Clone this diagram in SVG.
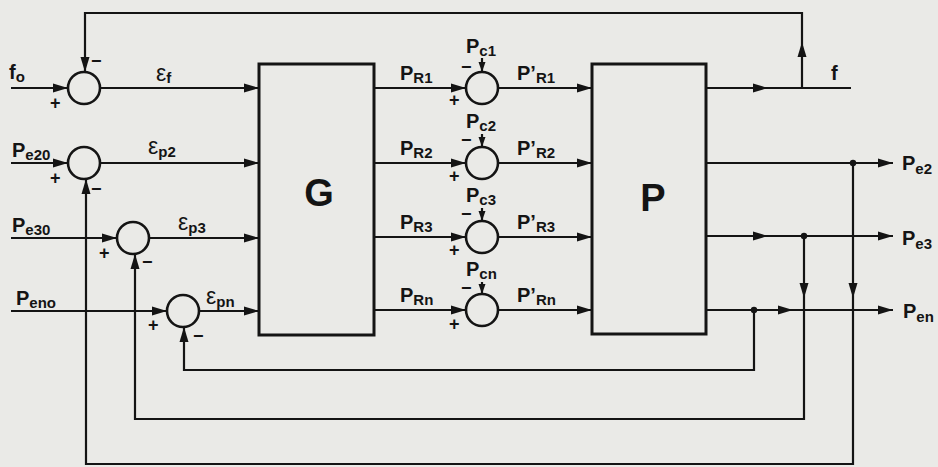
<svg xmlns="http://www.w3.org/2000/svg" width="938" height="467" viewBox="0 0 938 467">
<style>
.ln{stroke:#141414;stroke-width:2.2;fill:none}
.bx{stroke:#141414;stroke-width:3;fill:none}
.sj{stroke:#141414;stroke-width:2.6;fill:none}
.t{font-family:"Liberation Sans",Arial,sans-serif;font-weight:bold;font-size:20px;fill:#141414}
.s{font-size:15px}
.e{font-size:23px;font-weight:normal}
.big{font-family:"Liberation Sans",Arial,sans-serif;font-weight:bold;font-size:38px;fill:#141414}
.sg{font-family:"Liberation Sans",Arial,sans-serif;font-weight:bold;font-size:18px;fill:#141414}
</style>
<defs>
<path id="ah" d="M0,0 L-15,-4.5 L-15,4.5 Z" fill="#141414"/>
<path id="ahs" d="M0,0 L-10,-3.5 L-10,3.5 Z" fill="#141414"/>
</defs>
<rect width="938" height="467" fill="#eaeae7"/>

<g id="connectors">
<line class="ln" x1="11" y1="88" x2="68" y2="88"/>
<line class="ln" x1="11" y1="163" x2="68" y2="163"/>
<line class="ln" x1="11" y1="238" x2="117" y2="238"/>
<line class="ln" x1="11" y1="311" x2="167" y2="311"/>
<use href="#ah" transform="translate(68,88)"/>
<use href="#ah" transform="translate(68,163)"/>
<use href="#ah" transform="translate(117,238)"/>
<use href="#ah" transform="translate(167,311)"/>
<line class="ln" x1="100" y1="88" x2="259" y2="88"/>
<line class="ln" x1="100" y1="163" x2="259" y2="163"/>
<line class="ln" x1="149" y1="238" x2="259" y2="238"/>
<line class="ln" x1="199" y1="311" x2="259" y2="311"/>
<use href="#ah" transform="translate(259,88)"/>
<use href="#ah" transform="translate(259,163)"/>
<use href="#ah" transform="translate(259,238)"/>
<use href="#ah" transform="translate(259,311)"/>
<line class="ln" x1="374" y1="88" x2="466" y2="88"/>
<line class="ln" x1="374" y1="163" x2="466" y2="163"/>
<line class="ln" x1="374" y1="237" x2="466" y2="237"/>
<line class="ln" x1="374" y1="310" x2="466" y2="310"/>
<use href="#ah" transform="translate(466,88)"/>
<use href="#ah" transform="translate(466,163)"/>
<use href="#ah" transform="translate(466,237)"/>
<use href="#ah" transform="translate(466,310)"/>
<line class="ln" x1="482" y1="58" x2="482" y2="72"/>
<line class="ln" x1="482" y1="134" x2="482" y2="147"/>
<line class="ln" x1="482" y1="208" x2="482" y2="221"/>
<line class="ln" x1="482" y1="282" x2="482" y2="294"/>
<use href="#ahs" transform="translate(482,72) rotate(90)"/>
<use href="#ahs" transform="translate(482,147) rotate(90)"/>
<use href="#ahs" transform="translate(482,221) rotate(90)"/>
<use href="#ahs" transform="translate(482,294) rotate(90)"/>
<line class="ln" x1="498" y1="88" x2="592" y2="88"/>
<line class="ln" x1="498" y1="163" x2="592" y2="163"/>
<line class="ln" x1="498" y1="237" x2="592" y2="237"/>
<line class="ln" x1="498" y1="310" x2="592" y2="310"/>
<use href="#ah" transform="translate(592,88)"/>
<use href="#ah" transform="translate(592,163)"/>
<use href="#ah" transform="translate(592,237)"/>
<use href="#ah" transform="translate(592,310)"/>
<line class="ln" x1="706" y1="88" x2="851" y2="88"/>
<use href="#ah" transform="translate(768,88)"/>
<line class="ln" x1="706" y1="163" x2="893" y2="163"/>
<use href="#ah" transform="translate(893,163)"/>
<line class="ln" x1="706" y1="236" x2="893" y2="236"/>
<use href="#ah" transform="translate(768,236)"/>
<use href="#ah" transform="translate(893,236)"/>
<line class="ln" x1="706" y1="310" x2="893" y2="310"/>
<use href="#ah" transform="translate(793,310)"/>
<use href="#ah" transform="translate(893,310)"/>
<polyline class="ln" points="802,88 802,13 85,13 85,72"/>
<use href="#ah" transform="translate(802,42) rotate(-90)"/>
<use href="#ah" transform="translate(85,72) rotate(90)"/>
<polyline class="ln" points="853,163 853,464 86,464 86,179"/>
<use href="#ah" transform="translate(853,298) rotate(90)"/>
<use href="#ah" transform="translate(86,179) rotate(-90)"/>
<polyline class="ln" points="804,236 804,419 135,419 135,254"/>
<use href="#ah" transform="translate(804,298) rotate(90)"/>
<use href="#ah" transform="translate(135,254) rotate(-90)"/>
<polyline class="ln" points="754,310 754,370 184,370 184,327"/>
<use href="#ah" transform="translate(184,327) rotate(-90)"/>
<circle cx="853" cy="163" r="3.2" fill="#141414"/>
<circle cx="804" cy="236" r="3.2" fill="#141414"/>
<circle cx="754" cy="310" r="3.2" fill="#141414"/>
</g>

<g id="sum1"><circle class="sj" cx="84" cy="88" r="16"/><text class="sg" x="91" y="67">−</text><text class="sg" x="50" y="109">+</text></g>
<g id="sum2"><circle class="sj" cx="84" cy="163" r="16"/><text class="sg" x="91" y="195">−</text><text class="sg" x="50" y="184">+</text></g>
<g id="sum3"><circle class="sj" cx="133" cy="238" r="16"/><text class="sg" x="142" y="268">−</text><text class="sg" x="99" y="259">+</text></g>
<g id="sum4"><circle class="sj" cx="183" cy="311" r="16"/><text class="sg" x="193" y="342">−</text><text class="sg" x="148" y="331">+</text></g>

<g id="G"><rect class="bx" x="259" y="64" width="115" height="271"/><text class="big" x="319" y="206" text-anchor="middle">G</text></g>
<g id="P"><rect class="bx" x="592" y="64" width="114" height="270"/><text class="big" x="653" y="211" text-anchor="middle">P</text></g>

<g id="c1"><circle class="sj" cx="482" cy="88" r="16"/><text class="sg" x="461" y="73">−</text><text class="sg" x="449" y="106">+</text></g>
<g id="c2"><circle class="sj" cx="482" cy="163" r="16"/><text class="sg" x="461" y="146">−</text><text class="sg" x="449" y="182">+</text></g>
<g id="c3"><circle class="sj" cx="482" cy="237" r="16"/><text class="sg" x="461" y="220">−</text><text class="sg" x="449" y="256">+</text></g>
<g id="cn"><circle class="sj" cx="482" cy="310" r="16"/><text class="sg" x="461" y="294">−</text><text class="sg" x="449" y="330">+</text></g>

<g id="labels">
<text class="t" x="9" y="79">f<tspan class="s" dy="3">o</tspan></text>
<text class="t" x="12" y="157">P<tspan class="s" dy="3">e20</tspan></text>
<text class="t" x="12" y="232">P<tspan class="s" dy="3">e30</tspan></text>
<text class="t" x="16" y="305">P<tspan class="s" dy="3">eno</tspan></text>
<text class="t" x="156" y="81"><tspan class="e">ε</tspan><tspan class="s" dy="2">f</tspan></text>
<text class="t" x="148" y="154"><tspan class="e">ε</tspan><tspan class="s" dy="3">p2</tspan></text>
<text class="t" x="178" y="230"><tspan class="e">ε</tspan><tspan class="s" dy="3">p3</tspan></text>
<text class="t" x="206" y="304"><tspan class="e">ε</tspan><tspan class="s" dy="3">pn</tspan></text>
<text class="t" x="400" y="80">P<tspan class="s" dy="3">R1</tspan></text>
<text class="t" x="400" y="155">P<tspan class="s" dy="3">R2</tspan></text>
<text class="t" x="400" y="229">P<tspan class="s" dy="3">R3</tspan></text>
<text class="t" x="400" y="302">P<tspan class="s" dy="3">Rn</tspan></text>
<text class="t" x="517" y="80">P’<tspan class="s" dy="3">R1</tspan></text>
<text class="t" x="517" y="155">P’<tspan class="s" dy="3">R2</tspan></text>
<text class="t" x="517" y="229">P’<tspan class="s" dy="3">R3</tspan></text>
<text class="t" x="517" y="302">P’<tspan class="s" dy="3">Rn</tspan></text>
<text class="t" x="466" y="53">P<tspan class="s" dy="3">c1</tspan></text>
<text class="t" x="466" y="128">P<tspan class="s" dy="3">c2</tspan></text>
<text class="t" x="466" y="202">P<tspan class="s" dy="3">c3</tspan></text>
<text class="t" x="466" y="276">P<tspan class="s" dy="3">cn</tspan></text>
<text class="t" x="831" y="80">f</text>
<text class="t" x="902" y="170">P<tspan class="s" dy="4">e2</tspan></text>
<text class="t" x="902" y="245">P<tspan class="s" dy="4">e3</tspan></text>
<text class="t" x="903" y="318">P<tspan class="s" dy="4">en</tspan></text>
</g>
</svg>
